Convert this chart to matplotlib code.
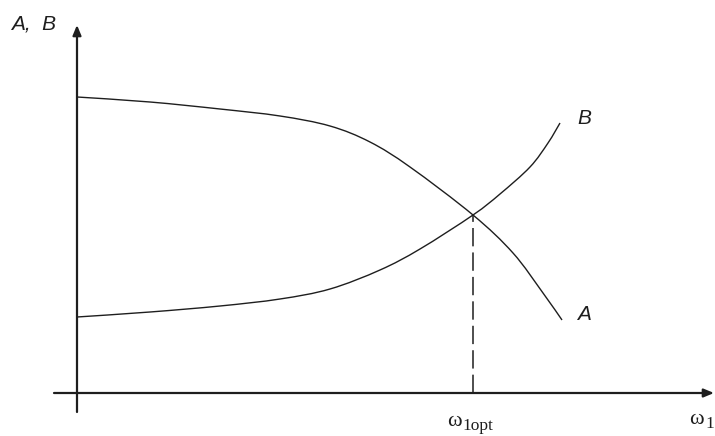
import numpy as np
import matplotlib.pyplot as plt
from matplotlib.path import Path
from matplotlib.patches import PathPatch

# curve A (falling) and curve B (rising), origin at the axes corner
a_x = [0, 73, 143, 203, 253, 293, 333, 396, 436, 466, 485]
a_y = [296, 291, 284, 277, 267, 251, 226, 178, 140, 100, 73]

b_x = [0, 73, 143, 203, 253, 303, 343, 396, 423, 453, 471, 483]
b_y = [76, 81, 87, 94, 104, 123, 144, 178, 199, 226, 250, 270]

# optimum where the curves cross
w_opt = 396
ab_opt = 178


def smooth_path(xs, ys):
    # Catmull-Rom through the points, drawn as cubic Bezier segments
    p = np.column_stack([xs, ys]).astype(float)
    verts = [p[0]]
    codes = [Path.MOVETO]
    for i in range(len(p) - 1):
        p0 = p[i - 1] if i > 0 else p[i]
        p3 = p[i + 2] if i + 2 < len(p) else p[i + 1]
        c1 = p[i] + (p[i + 1] - p0) / 6
        c2 = p[i + 1] - (p3 - p[i]) / 6
        verts += [c1, c2, p[i + 1]]
        codes += [Path.CURVE4] * 3
    return Path(verts, codes)


fig = plt.figure(figsize=(7.15, 4.36), dpi=100)
ax = fig.add_axes([0, 0, 1, 1])
ax.set_xlim(-77, 638)
ax.set_ylim(-43, 393)
ax.axis('off')

col = '#1e1e1e'
for xs, ys in [(a_x, a_y), (b_x, b_y)]:
    ax.add_patch(PathPatch(smooth_path(xs, ys), facecolor='none', edgecolor=col, lw=1.0))
ax.plot([w_opt, w_opt], [0, ab_opt], color=col, lw=1.1, linestyle=(0, (12, 4)))

# axes with arrow heads
arrow = dict(arrowstyle='-|>,head_length=0.6,head_width=0.25', color=col, lw=1.6,
             shrinkA=0, shrinkB=0)
ax.annotate('', xy=(0, 368), xytext=(0, -19), arrowprops=arrow)
ax.annotate('', xy=(637, 0), xytext=(-23, 0), arrowprops=arrow)

sans = dict(family='Liberation Sans', style='italic', fontsize=15, color=col)
ax.text(-66, 369, 'A,  B', ha='left', va='center', **sans)
ax.text(500, 275, 'B', ha='left', va='center', **sans)
ax.text(500, 79, 'A', ha='left', va='center', **sans)

greek = dict(family='Liberation Serif', fontsize=16, color=col)
serif = dict(family='Liberation Serif', fontsize=12.5, color=col)
ax.text(w_opt - 26, -28, 'ω', ha='left', va='center', **greek)
ax.text(w_opt - 11, -33, '1opt', ha='left', va='center', **serif)
ax.text(612, -26, 'ω', ha='left', va='center', **greek)
ax.text(628, -31, '1', ha='left', va='center', **serif)

fig.savefig('out.png', dpi=100)
